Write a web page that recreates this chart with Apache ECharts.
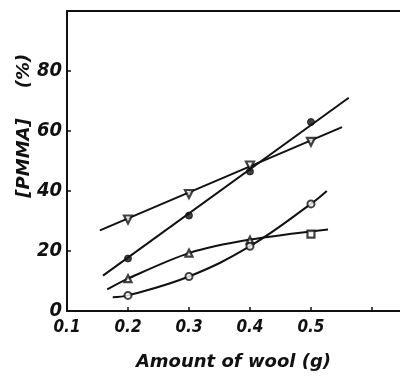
<!DOCTYPE html>
<html>
<head>
<meta charset="utf-8">
<script src="https://cdn.jsdelivr.net/npm/echarts@6/dist/echarts.min.js"></script>
<style>
  html, body { margin: 0; padding: 0; background: #fff; }
  #chart { width: 400px; height: 376px; }
</style>
</head>
<body>
<div id="chart"></div>
<script>
// Amount of wool (g) at which each sample was measured
const woolAmounts = [0.2, 0.3, 0.4, 0.5];

// [PMMA] (%) for the four sample sets
const pmmaDownTriangle = [30.5, 39.0, 48.5, 56.4];
const pmmaFilledCircle = [17.5, 31.8, 46.5, 63.0];
const pmmaTriangle = [10.8, 19.3, 23.6, 25.6];
const pmmaOpenCircle = [5.2, 11.5, 21.6, 35.7];

// marker shape of each point in the triangle set (last point is a square)
const triangleSymbols = ['triangle', 'triangle', 'triangle', 'rect'];

// drawn trend lines / curves: [wool (g), PMMA (%)]
const lineDownTriangle = [[0.154, 26.9], [0.551, 61.3]];
const lineFilledCircle = [[0.159, 11.8], [0.562, 71.1]];
const curveTriangle = [[0.166, 7.2], [0.2, 10.8], [0.3, 19.3], [0.4, 23.8], [0.528, 27.2]];
const curveOpenCircle = [[0.175, 4.6], [0.2, 5.2], [0.3, 11.5], [0.4, 21.6], [0.5, 35.7], [0.526, 40.0]];

// axis ticks
const xTicks = [0.1, 0.2, 0.3, 0.4, 0.5];
const yTicks = [0, 20, 40, 60, 80];

const pairs = (ys) => woolAmounts.map((x, i) => [x, ys[i]]);

const INK = '#111';
const labelFont = "'Liberation Sans Narrow', 'DejaVu Sans Condensed', 'Liberation Sans', sans-serif";
const nameFont = "'DejaVu Sans', sans-serif";

const trend = (data, smooth) => ({
  type: 'line',
  data: data,
  smooth: smooth,
  symbol: 'none',
  silent: true,
  lineStyle: { color: INK, width: 2 },
  z: 2
});

const chart = echarts.init(document.getElementById('chart'));
chart.setOption({
  animation: false,
  backgroundColor: '#fff',
  grid: { left: 67, right: 0, top: 11, bottom: 60 },
  xAxis: [{
    type: 'value',
    min: 0.1,
    max: 0.646,
    interval: 0.1,
    position: 'bottom',
    axisLine: { lineStyle: { color: INK, width: 2 } },
    axisTick: { inside: true, length: 4, lineStyle: { color: INK, width: 1.5 } },
    splitLine: { show: false },
    axisLabel: {
      margin: 8,
      color: INK,
      fontFamily: labelFont,
      fontStyle: 'italic',
      fontWeight: 'bold',
      fontSize: 17,
      showMaxLabel: false,
      formatter: (v) => {
        const t = xTicks.find((x) => Math.abs(x - v) < 1e-6);
        return t === undefined ? '' : t.toFixed(1);
      }
    },
    name: 'Amount of wool (g)',
    nameLocation: 'middle',
    nameGap: 42,
    nameTextStyle: {
      color: INK,
      fontFamily: nameFont,
      fontStyle: 'italic',
      fontWeight: 'bold',
      fontSize: 18
    }
  }, {
    type: 'value',
    min: 0.1,
    max: 0.646,
    position: 'top',
    axisLine: { lineStyle: { color: INK, width: 2 } },
    axisTick: { show: false },
    axisLabel: { show: false },
    splitLine: { show: false }
  }],
  yAxis: {
    type: 'value',
    min: 0,
    max: 100,
    interval: 20,
    axisLine: { show: true, lineStyle: { color: INK, width: 2 } },
    axisTick: { inside: true, length: 4, lineStyle: { color: INK, width: 1.5 } },
    splitLine: { show: false },
    axisLabel: {
      margin: 5,
      color: INK,
      fontFamily: labelFont,
      fontStyle: 'italic',
      fontWeight: 'bold',
      fontSize: 20,
      showMaxLabel: false,
      formatter: (v) => (yTicks.includes(v) ? String(v) : '')
    }
  },
  graphic: [
    {
      type: 'text',
      x: 24, y: 158,
      rotation: Math.PI / 2,
      style: {
        text: '[PMMA]',
        fill: INK,
        font: "italic bold 18px 'DejaVu Sans', sans-serif",
        align: 'center',
        verticalAlign: 'middle'
      }
    },
    {
      type: 'text',
      x: 24, y: 71,
      rotation: Math.PI / 2,
      style: {
        text: '(%)',
        fill: INK,
        font: "italic bold 18px 'DejaVu Sans', sans-serif",
        align: 'center',
        verticalAlign: 'middle'
      }
    }
  ],
  series: [
    trend(lineDownTriangle, false),
    trend(lineFilledCircle, false),
    trend(curveTriangle, 0.3),
    trend(curveOpenCircle, 0.4),
    {
      type: 'scatter',
      data: pairs(pmmaDownTriangle),
      symbol: 'triangle',
      symbolRotate: 180,
      symbolSize: 8,
      itemStyle: { color: '#fff', borderColor: INK, borderWidth: 2.2 },
      z: 3
    },
    {
      type: 'scatter',
      data: pairs(pmmaFilledCircle),
      symbol: 'circle',
      symbolSize: 7,
      itemStyle: { color: INK, borderColor: INK, borderWidth: 1 },
      z: 3
    },
    {
      type: 'scatter',
      data: pairs(pmmaTriangle).map((p, i) => ({ value: p, symbol: triangleSymbols[i] })),
      symbolSize: 7,
      itemStyle: { color: '#fff', borderColor: INK, borderWidth: 2.2 },
      z: 3
    },
    {
      type: 'scatter',
      data: pairs(pmmaOpenCircle),
      symbol: 'circle',
      symbolSize: 7,
      itemStyle: { color: '#fff', borderColor: INK, borderWidth: 2 },
      z: 3
    }
  ]
});
</script>
</body>
</html>
